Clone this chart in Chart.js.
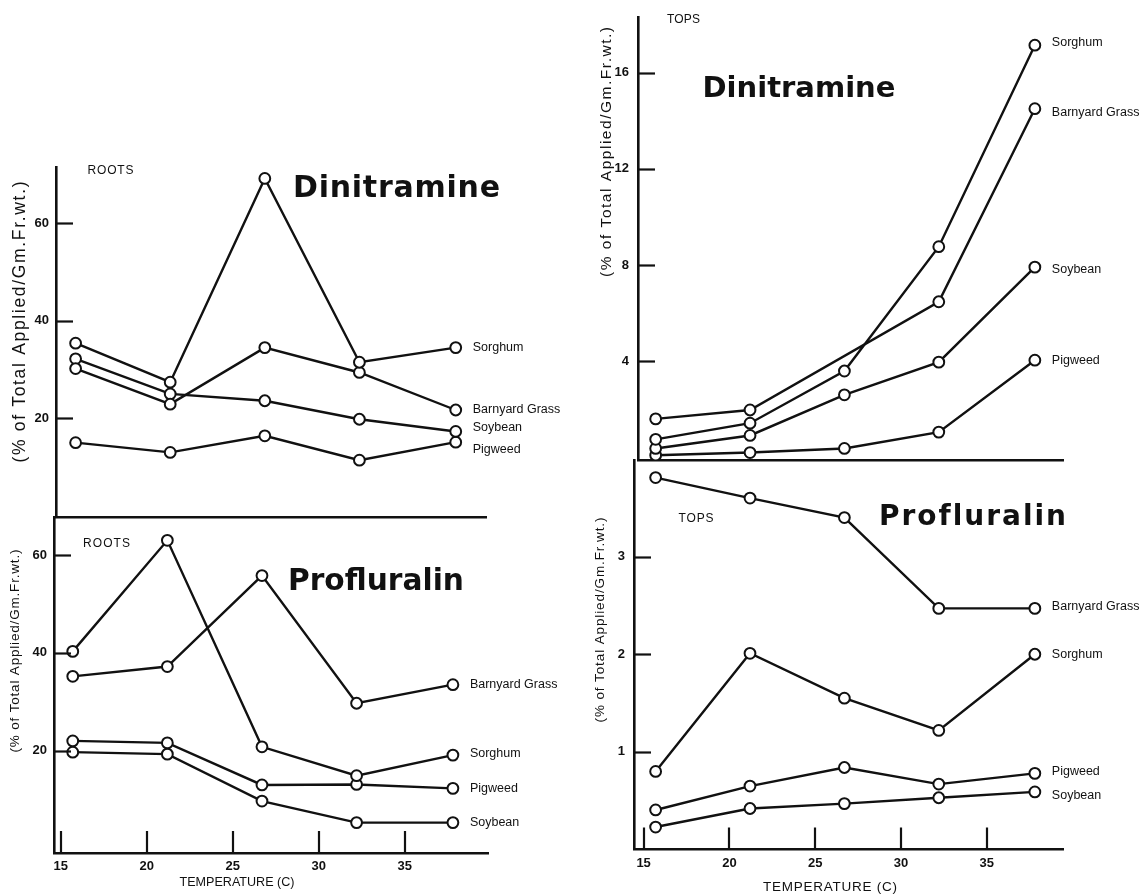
<!DOCTYPE html>
<html><head><meta charset="utf-8">
<script src="https://cdn.jsdelivr.net/npm/chart.js@4"></script>
<style>
html,body{margin:0;padding:0;background:#fff;width:1147px;height:895px;overflow:hidden}
canvas{position:absolute;left:0;top:0}
</style></head><body>
<canvas id="rootsDini" width="1147" height="895"></canvas>
<canvas id="rootsProf" width="1147" height="895"></canvas>
<canvas id="topsDini" width="1147" height="895"></canvas>
<canvas id="topsProf" width="1147" height="895"></canvas>
<script>
// ---------- DATA ----------
const temperatures = [15.7, 21.2, 26.7, 32.2, 37.8];
const xTickValues = [15, 20, 25, 30, 35];

// Roots – Dinitramine
const rootsDiniSorghum  = [35.4, 27.4, 69.2, 31.5, 34.5];
const rootsDiniBarnyard = [30.2, 22.9, 34.5, 29.4, 21.7];
const rootsDiniSoybean  = [32.2, 25.0, 23.6, 19.8, 17.3];
const rootsDiniPigweed  = [15.0, 13.0, 16.4, 11.4, 15.1];
const rootsDiniTicks = [20, 40, 60];

// Roots – Profluralin
const rootsProfSorghum  = [40.3, 63.0, 20.8, 14.9, 19.1];
const rootsProfBarnyard = [35.2, 37.2, 55.8, 29.7, 33.5];
const rootsProfPigweed  = [22.0, 21.6, 13.0, 13.1, 12.3];
const rootsProfSoybean  = [19.7, 19.3, 9.7, 5.3, 5.3];
const rootsProfTicks = [20, 40, 60];

// Tops – Dinitramine
const topsDiniSorghum  = [0.75, 1.42, 3.59, 8.76, 17.14];
const topsDiniBarnyard = [1.6, 1.97, null, 6.47, 14.5];
const topsDiniSoybean  = [0.37, 0.91, 2.6, 3.96, 7.91];
const topsDiniPigweed  = [0.09, 0.2, 0.37, 1.05, 4.04];
const topsDiniTicks = [4, 8, 12, 16];

// Tops – Profluralin
const topsProfBarnyard = [3.81, 3.60, 3.40, 2.47, 2.47];
const topsProfSorghum  = [0.80, 2.01, 1.55, 1.22, 2.00];
const topsProfPigweed  = [0.405, 0.65, 0.84, 0.67, 0.78];
const topsProfSoybean  = [0.23, 0.42, 0.47, 0.53, 0.59];
const topsProfTicks = [1, 2, 3];

const yTitle = '(% of Total Applied/Gm.Fr.wt.)';
const xTitle = 'TEMPERATURE (C)';

// ---------- RENDERING ----------
const INK = '#111';
const SANS = '"Liberation Sans", Arial, Helvetica, sans-serif';
const DISPLAY = '"DejaVu Sans", "Liberation Sans", sans-serif';
const W = 1147, H = 895, YW = 45;

function fitText(ctx, t) {
  ctx.save();
  let size = t.size;
  ctx.font = `${t.weight || 'normal'} ${size}px ${t.family || SANS}`;
  ctx.letterSpacing = '0px';
  let w = ctx.measureText(t.text).width;
  let spacing = 0;
  if (t.width) {
    if (w > t.width) {
      size = size * t.width / w;
      ctx.font = `${t.weight || 'normal'} ${size}px ${t.family || SANS}`;
      w = ctx.measureText(t.text).width;
    } else {
      spacing = (t.width - w) / (t.text.length - 1);
    }
  }
  ctx.letterSpacing = spacing + 'px';
  const total = w + spacing * (t.text.length - 1);
  ctx.fillStyle = INK;
  ctx.textAlign = 'left';
  ctx.textBaseline = t.baseline || 'middle';
  if (t.rotate) {
    ctx.translate(t.cx, t.cy);
    ctx.rotate(-Math.PI / 2);
    ctx.fillText(t.text, -total / 2, 0);
  } else {
    const left = t.left !== undefined ? t.left : t.cx - total / 2;
    ctx.fillText(t.text, left, t.y);
  }
  ctx.restore();
}

const decor = {
  id: 'decor',
  afterDraw(chart, args, o) {
    const ctx = chart.ctx, a = chart.chartArea;
    const xs = chart.scales.x, ys = chart.scales.y;
    ctx.save();
    ctx.strokeStyle = INK;
    ctx.lineWidth = 2.2;
    ctx.lineCap = 'butt';
    o.yTicks.forEach(v => {
      const py = Math.round(ys.getPixelForValue(v)) + 0.5;
      ctx.beginPath(); ctx.moveTo(a.left, py); ctx.lineTo(a.left + 17, py); ctx.stroke();
    });
    if (o.showX) {
      xTickValues.forEach(v => {
        const px = Math.round(xs.getPixelForValue(v));
        ctx.beginPath(); ctx.moveTo(px, a.bottom); ctx.lineTo(px, a.bottom - 22); ctx.stroke();
      });
    }
    ctx.restore();
    // series labels beside the last point
    chart.data.datasets.forEach((ds, i) => {
      const meta = chart.getDatasetMeta(i);
      const el = meta.data[meta.data.length - 1];
      fitText(ctx, {text: ds.label, left: el.x + 17, y: el.y + (o.labelDy[i] || 0), size: 12.5});
    });
    o.texts.forEach(t => fitText(ctx, t));
  }
};

function panel(id, cfg) {
  const series = cfg.series.map(s => ({
    label: s[0],
    data: temperatures.map((t, i) => ({x: t, y: s[1][i]})),
    borderColor: INK, borderWidth: 2.4, tension: 0, spanGaps: true, fill: false,
    pointRadius: 5.4, pointBorderWidth: 2, pointBackgroundColor: '#fff', pointBorderColor: INK
  }));
  const XH = cfg.showX ? 40 : 0;
  return new Chart(document.getElementById(id), {
    type: 'line',
    data: {datasets: series},
    options: {
      responsive: false, animation: false, events: [],
      layout: {padding: {left: cfg.area.left - YW, right: W - cfg.area.right, top: cfg.area.top, bottom: H - cfg.area.bottom - XH}},
      plugins: {legend: {display: false}, tooltip: {enabled: false}, decor: {yTicks: cfg.yTicks, showX: cfg.showX, labelDy: cfg.labelDy, texts: cfg.texts}},
      scales: {
        x: {
          type: 'linear', min: cfg.xMin, max: cfg.xMax,
          afterBuildTicks: s => { s.ticks = cfg.showX ? xTickValues.map(v => ({value: v})) : []; },
          afterFit: s => { s.height = XH; },
          ticks: {display: cfg.showX, autoSkip: false, maxRotation: 0, padding: 6, color: INK, font: {family: SANS, size: 13, weight: 'bold'}},
          grid: {display: false, drawTicks: false},
          border: {display: true, color: INK, width: 2.6}
        },
        y: {
          type: 'linear', min: cfg.yMin, max: cfg.yMax,
          afterBuildTicks: s => { s.ticks = cfg.yTicks.map(v => ({value: v})); },
          afterFit: s => { s.width = YW; },
          ticks: {autoSkip: false, padding: cfg.yPad, color: INK, font: {family: SANS, size: 13, weight: 'bold'}},
          grid: {display: false, drawTicks: false},
          border: {display: true, color: INK, width: 2.6}
        }
      }
    },
    plugins: [decor]
  });
}

panel('rootsDini', {
  area: {left: 56, right: 486, top: 167, bottom: 517},
  xMin: 14.56, xMax: 39.56, yMin: -0.25, yMax: 71.55, yPad: 7,
  yTicks: rootsDiniTicks, showX: false,
  series: [['Sorghum', rootsDiniSorghum], ['Barnyard Grass', rootsDiniBarnyard], ['Soybean', rootsDiniSoybean], ['Pigweed', rootsDiniPigweed]],
  labelDy: [0, 0, -4, 7],
  texts: [
    {text: 'ROOTS', left: 87.5, y: 171, size: 12, width: 46},
    {text: 'Dinitramine', left: 293, y: 197, baseline: 'alphabetic', size: 30, weight: 'bold', family: DISPLAY, width: 207},
    {text: yTitle, rotate: true, cx: 20.5, cy: 322, size: 17.5, width: 281}
  ]
});

panel('rootsProf', {
  area: {left: 54, right: 488, top: 517, bottom: 853},
  xMin: 14.61, xMax: 39.84, yMin: -0.91, yMax: 67.77, yPad: 7,
  yTicks: rootsProfTicks, showX: true,
  series: [['Sorghum', rootsProfSorghum], ['Barnyard Grass', rootsProfBarnyard], ['Pigweed', rootsProfPigweed], ['Soybean', rootsProfSoybean]],
  labelDy: [-2, 0, 0, 0],
  texts: [
    {text: 'ROOTS', left: 83, y: 544, size: 12, width: 47},
    {text: 'Profluralin', left: 288, y: 590, baseline: 'alphabetic', size: 30, weight: 'bold', family: DISPLAY, width: 176},
    {text: yTitle, rotate: true, cx: 15, cy: 651, size: 13.5, width: 203},
    {text: xTitle, cx: 237, y: 883, size: 13, width: 115}
  ]
});

panel('topsDini', {
  area: {left: 638, right: 1063, top: 12, bottom: 460},
  xMin: 14.67, xMax: 39.44, yMin: -0.11, yMax: 18.32, yPad: 9,
  yTicks: topsDiniTicks, showX: false,
  series: [['Sorghum', topsDiniSorghum], ['Barnyard Grass', topsDiniBarnyard], ['Soybean', topsDiniSoybean], ['Pigweed', topsDiniPigweed]],
  labelDy: [-3, 4, 2, 0],
  texts: [
    {text: 'TOPS', left: 667, y: 20, size: 12, width: 33},
    {text: 'Dinitramine', left: 702.5, y: 97, baseline: 'alphabetic', size: 32, weight: 'bold', family: DISPLAY, width: 193},
    {text: yTitle, rotate: true, cx: 607, cy: 152, size: 15.5, width: 250}
  ]
});

panel('topsProf', {
  area: {left: 634, right: 1063, top: 460, bottom: 849.5},
  xMin: 14.44, xMax: 39.44, yMin: 0, yMax: 3.99, yPad: 9,
  yTicks: topsProfTicks, showX: true,
  series: [['Barnyard Grass', topsProfBarnyard], ['Sorghum', topsProfSorghum], ['Pigweed', topsProfPigweed], ['Soybean', topsProfSoybean]],
  labelDy: [-2, 0, -2, 4],
  texts: [
    {text: 'TOPS', left: 678.6, y: 519, size: 12, width: 35},
    {text: 'Profluralin', left: 879, y: 525, baseline: 'alphabetic', size: 28, weight: 'bold', family: DISPLAY, width: 186},
    {text: yTitle, rotate: true, cx: 600, cy: 620, size: 13.5, width: 205},
    {text: xTitle, cx: 830, y: 887, size: 13.5, width: 134}
  ]
});
</script>
</body></html>
